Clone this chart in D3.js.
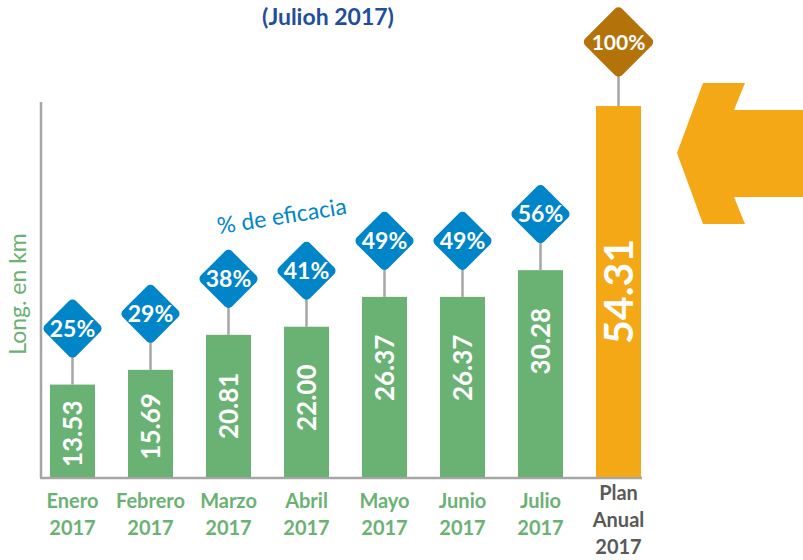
<!DOCTYPE html>
<html>
<head>
<meta charset="utf-8">
<script src="https://cdn.jsdelivr.net/npm/d3@7"></script>
<style>
  body { margin: 0; background: #fff; }
  text { font-family: Lato, "Open Sans", sans-serif; }
</style>
</head>
<body>
<div id="chart"></div>
<script>
// data
var months = ["Enero", "Febrero", "Marzo", "Abril", "Mayo", "Junio", "Julio", "Plan"];
var monthLabels = [["Enero","2017"],["Febrero","2017"],["Marzo","2017"],["Abril","2017"],
                   ["Mayo","2017"],["Junio","2017"],["Julio","2017"],["Plan","Anual","2017"]];
var lengths = [13.53, 15.69, 20.81, 22.00, 26.37, 26.37, 30.28, 54.31];
var efficacy = ["25%", "29%", "38%", "41%", "49%", "49%", "56%", "100%"];

var width = 803, height = 560;
var green = "#6AB273", orange = "#F5A816", blue = "#0085C9", brown = "#B4720A", grey = "#A6A6A6";

var svg = d3.select("#chart").append("svg")
    .attr("width", width).attr("height", height);

var x = d3.scaleBand().domain(months)
    .range([33.5, 657.5]).paddingInner(0.423).paddingOuter(0.2115);
var y = d3.scaleLinear().domain([0, 54.31]).range([477, 106]);

function isPlan(d) { return d.m == "Plan"; }
function stick(d) { return isPlan(d) ? 64 : 56; }

// title
svg.append("text").attr("x", 328).attr("y", 25)
   .attr("text-anchor", "middle").attr("font-size", 23).attr("font-weight", "bold")
   .attr("fill", "#1F4E9A").text("(Julioh 2017)");

// axes lines
svg.append("line").attr("x1", 41).attr("x2", 41).attr("y1", 102).attr("y2", 478)
   .attr("stroke", grey).attr("stroke-width", 2.5);
svg.append("line").attr("x1", 40).attr("x2", 642).attr("y1", 478).attr("y2", 478)
   .attr("stroke", grey).attr("stroke-width", 2.5);

// y label
svg.append("text").attr("transform", "translate(26,294) rotate(-90)")
   .attr("text-anchor", "middle").attr("font-size", 23).attr("fill", green)
   .text("Long. en km");

// bars
var g = svg.append("g");
var rows = months.map(function(m, i) { return {m: m, v: lengths[i], p: efficacy[i], i: i}; });

g.selectAll(".stick").data(rows).enter().append("line")
  .attr("x1", function(d) { return x(d.m) + x.bandwidth()/2; })
  .attr("x2", function(d) { return x(d.m) + x.bandwidth()/2; })
  .attr("y1", function(d) { return y(d.v); })
  .attr("y2", function(d) { return y(d.v) - stick(d); })
  .attr("stroke", grey).attr("stroke-width", 2.5);

g.selectAll(".bar").data(rows).enter().append("rect")
  .attr("x", function(d) { return x(d.m); })
  .attr("y", function(d) { return y(d.v); })
  .attr("width", x.bandwidth())
  .attr("height", function(d) { return y(0) - y(d.v); })
  .attr("fill", function(d) { return isPlan(d) ? orange : green; });

// values inside bars (months sit a fixed way under the top once the bar is tall)
g.selectAll(".val").data(rows).enter().append("text")
  .attr("transform", function(d) {
    var cx = x(d.m) + x.bandwidth()/2;
    var h = y(0) - y(d.v);
    var cy = y(d.v) + (isPlan(d) ? h/2 : Math.min(h/2 + 3, 71));
    return "translate(" + cx + "," + cy + ") rotate(-90)";
  })
  .attr("text-anchor", "middle").attr("dy", "0.36em")
  .attr("font-weight", "bold").attr("fill", "#fff")
  .attr("font-size", function(d) { return isPlan(d) ? 41 : 26; })
  .text(function(d) { return d.v.toFixed(2); });

// diamonds
var dia = g.selectAll(".dia").data(rows).enter().append("g")
  .attr("transform", function(d) {
    return "translate(" + (x(d.m) + x.bandwidth()/2) + "," + (y(d.v) - stick(d)) + ")";
  });
dia.append("rect")
   .attr("x", function(d) { return isPlan(d) ? -26 : -22; })
   .attr("y", function(d) { return isPlan(d) ? -26 : -22; })
   .attr("width", function(d) { return isPlan(d) ? 52 : 44; })
   .attr("height", function(d) { return isPlan(d) ? 52 : 44; })
   .attr("rx", 5).attr("transform", "rotate(45)")
   .attr("fill", function(d) { return isPlan(d) ? brown : blue; });
dia.append("text").attr("text-anchor", "middle").attr("dy", "0.36em")
   .attr("font-size", function(d) { return isPlan(d) ? 21 : 23; })
   .attr("font-weight", "bold").attr("fill", "#fff")
   .text(function(d) { return d.p; });

// % de eficacia note
svg.append("text").attr("transform", "translate(283,224) rotate(-9)")
   .attr("text-anchor", "middle").attr("font-size", 23).attr("fill", blue)
   .text("% de eficacia");

// x labels
var xl = svg.selectAll(".xl").data(rows).enter().append("text")
  .attr("x", function(d) { return x(d.m) + x.bandwidth()/2; })
  .attr("y", function(d) { return isPlan(d) ? 500 : 508; })
  .attr("text-anchor", "middle").attr("font-size", 20).attr("font-weight", "bold")
  .attr("fill", function(d) { return isPlan(d) ? "#595959" : green; });
xl.selectAll("tspan").data(function(d) { return monthLabels[d.i]; }).enter().append("tspan")
  .attr("x", function() { var p = d3.select(this.parentNode).datum(); return x(p.m) + x.bandwidth()/2; })
  .attr("dy", function(t, j) { return j == 0 ? 0 : 27; })
  .text(function(t) { return t; });

// big arrow pointing at the plan bar
svg.append("path")
  .attr("d", "M677,153 L703,83 L745,83 L734,110 L803,110 L803,197 L734,197 L745,224 L703,224 Z")
  .attr("fill", orange);
</script>
</body>
</html>
